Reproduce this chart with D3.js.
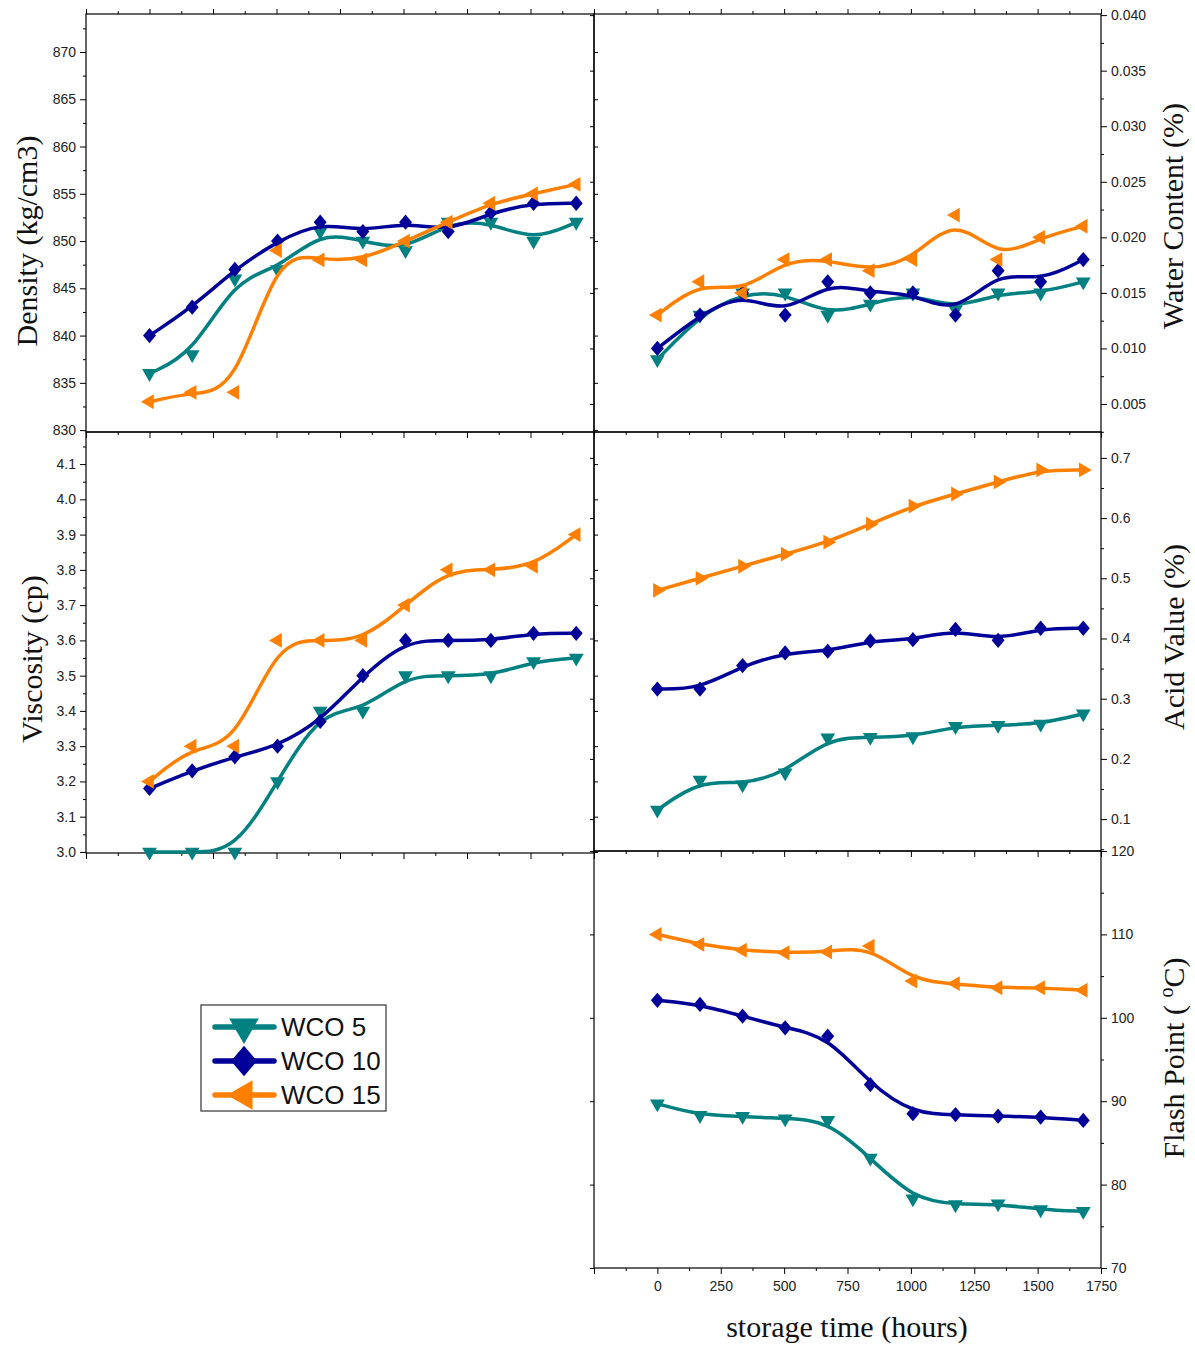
<!DOCTYPE html>
<html>
<head>
<meta charset="utf-8">
<script src="https://cdn.jsdelivr.net/npm/d3@7"></script>
<style>body { margin: 0; background: #fff; }</style>
</head>
<body>
<script>
// storage time, one sample a week
const hours = [0, 168, 336, 504, 672, 840, 1008, 1176, 1344, 1512, 1680];
const seriesNames = ['WCO 5', 'WCO 10', 'WCO 15'];

const densityWco5 = [836, 838, 846, 847, 851, 850, 849, 852, 852, 850, 852];
const densityWco10 = [840, 843, 847, 850, 852, 851, 852, 851, 853, 854, 854];
const densityWco15 = [833, 834, 834, 849, 848, 848, 850, 852, 854, 855, 856];

const waterWco5 = [0.009, 0.013, 0.015, 0.015, 0.013, 0.014, 0.015, 0.0135, 0.015, 0.015, 0.016];
const waterWco10 = [0.010, 0.013, 0.015, 0.013, 0.016, 0.015, 0.015, 0.013, 0.017, 0.016, 0.018];
const waterWco15 = [0.013, 0.016, 0.015, 0.018, 0.018, 0.017, 0.018, 0.022, 0.018, 0.020, 0.021];

const viscWco5 = [3.0, 3.0, 3.0, 3.2, 3.4, 3.4, 3.5, 3.5, 3.5, 3.54, 3.55];
const viscWco10 = [3.18, 3.23, 3.27, 3.30, 3.37, 3.50, 3.60, 3.60, 3.60, 3.62, 3.62];
const viscWco15 = [3.20, 3.30, 3.30, 3.60, 3.60, 3.60, 3.70, 3.80, 3.80, 3.81, 3.90];

const acidWco5 = [0.115, 0.165, 0.157, 0.177, 0.235, 0.236, 0.237, 0.254, 0.256, 0.258, 0.275];
const acidWco10 = [0.316, 0.316, 0.355, 0.376, 0.379, 0.396, 0.398, 0.415, 0.397, 0.417, 0.417];
const acidWco15 = [0.48, 0.50, 0.52, 0.54, 0.56, 0.59, 0.62, 0.64, 0.66, 0.68, 0.68];

const flashWco5 = [89.7, 88.3, 88.2, 87.9, 87.7, 83.2, 78.3, 77.6, 77.7, 77.0, 76.8];
const flashWco10 = [102.1, 101.6, 100.2, 98.8, 97.8, 92.0, 88.5, 88.4, 88.2, 88.1, 87.7];
const flashWco15 = [110.0, 108.8, 108.1, 107.8, 107.9, 108.6, 104.4, 104.1, 103.6, 103.6, 103.3];

const colors = ['#008080', '#000099', '#FF8000'];

const W = 1195, H = 1347;
const svg = d3.select('body').append('svg')
  .attr('width', W).attr('height', H)
  .style('font-family', '"Liberation Sans", Arial, sans-serif');

const tri = d3.symbol().type(d3.symbolTriangle);
// Origin-style diamond, a little taller than wide
const diamondPath = r => `M0,${-r * 1.12}L${r * 0.95},0L0,${r * 1.12}L${-r * 0.95},0Z`;
const shapes = {
  down: s => ({ path: tri.size(s)(), rot: 180 }),
  diamond: s => ({ path: diamondPath(Math.sqrt(s) * 0.7), rot: 0 }),
  left: s => ({ path: tri.size(s)(), rot: -90 }),
  right: s => ({ path: tri.size(s)(), rot: 90 })
};

const panels = [
  { left: 86, right: 594, top: 14, bottom: 432, side: 'left', domain: [829.8, 874.02],
    major: d3.range(830, 871, 5), minor: d3.range(832.5, 874, 5), fmt: d3.format('d'),
    data: [densityWco5, densityWco10, densityWco15], marks: ['down', 'diamond', 'left'],
    label: 'Density (kg/cm3)', lx: 37, ly: 241, topTicks: true },
  { left: 594, right: 1101, top: 14, bottom: 432, side: 'right', domain: [0.00248, 0.0401],
    major: d3.range(0.005, 0.0401, 0.005), minor: d3.range(0.0025, 0.0401, 0.005), fmt: d3.format('.3f'),
    data: [waterWco5, waterWco10, waterWco15], marks: ['down', 'diamond', 'left'],
    label: 'Water Content (%)', lx: 1183, ly: 216, topTicks: true },
  { left: 86, right: 594, top: 432, bottom: 853, side: 'left', domain: [2.997, 4.191],
    major: d3.range(3.0, 4.15, 0.1), minor: d3.range(3.05, 4.19, 0.1), fmt: d3.format('.1f'),
    data: [viscWco5, viscWco10, viscWco15], marks: ['down', 'diamond', 'left'],
    label: 'Viscosity (cp)', lx: 42, ly: 659 },
  { left: 594, right: 1101, top: 432, bottom: 851, side: 'right', domain: [0.047, 0.743],
    major: d3.range(0.1, 0.71, 0.1), minor: d3.range(0.05, 0.74, 0.1), fmt: d3.format('.1f'),
    data: [acidWco5, acidWco10, acidWco15], marks: ['down', 'diamond', 'right'],
    label: 'Acid Value (%)', lx: 1184, ly: 637 },
  { left: 594, right: 1101, top: 851, bottom: 1268, side: 'right', domain: [70, 120],
    major: d3.range(70, 121, 10), minor: d3.range(75, 120, 10), fmt: d3.format('d'),
    data: [flashWco5, flashWco10, flashWco15], marks: ['down', 'diamond', 'left'],
    label: 'flash', lx: 1184, ly: 1058, xLabels: true }
];

function styleAxis(sel) {
  sel.select('.domain').remove();
  sel.selectAll('line').attr('stroke', '#000');
  sel.selectAll('text').attr('font-size', 14).attr('fill', '#222')
    .attr('font-family', '"Liberation Sans", Arial, sans-serif');
}

function drawPanel(p) {
  const g = svg.append('g');
  const x = d3.scaleLinear().domain([-250, 1750]).range([p.left, p.right]);
  const y = d3.scaleLinear().domain(p.domain).range([p.bottom, p.top]);

  const xMajor = d3.range(-250, 1751, 250);
  const xMinor = d3.range(-125, 1750, 250);

  // bottom axis (labels only on the last panel)
  g.append('g').attr('transform', `translate(0,${p.bottom})`)
    .call(d3.axisBottom(x).tickValues(xMajor).tickSize(6).tickPadding(7)
      .tickFormat(d => (p.xLabels && d >= 0) ? d : ''))
    .call(styleAxis);
  g.append('g').attr('transform', `translate(0,${p.bottom})`)
    .call(d3.axisBottom(x).tickValues(xMinor).tickSize(3).tickFormat(''))
    .call(styleAxis);
  if (p.topTicks) {
    g.append('g').attr('transform', `translate(0,${p.top})`)
      .call(d3.axisTop(x).tickValues(xMajor).tickSize(5).tickFormat(''))
      .call(styleAxis);
    g.append('g').attr('transform', `translate(0,${p.top})`)
      .call(d3.axisTop(x).tickValues(xMinor).tickSize(3).tickFormat(''))
      .call(styleAxis);
  }

  // y axis with labels, plus mirrored ticks on the other spine
  const main = p.side === 'left' ? d3.axisLeft(y) : d3.axisRight(y);
  const mirror = p.side === 'left' ? d3.axisRight(y) : d3.axisLeft(y);
  const mainX = p.side === 'left' ? p.left : p.right;
  const mirrorX = p.side === 'left' ? p.right : p.left;
  g.append('g').attr('transform', `translate(${mainX},0)`)
    .call(main.tickValues(p.major).tickSize(6).tickPadding(4).tickFormat(p.fmt))
    .call(styleAxis);
  g.append('g').attr('transform', `translate(${mainX},0)`)
    .call((p.side === 'left' ? d3.axisLeft(y) : d3.axisRight(y)).tickValues(p.minor).tickSize(3).tickFormat(''))
    .call(styleAxis);
  g.append('g').attr('transform', `translate(${mirrorX},0)`)
    .call(mirror.tickValues(p.major).tickSize(4).tickFormat(''))
    .call(styleAxis);

  g.append('rect')
    .attr('x', p.left).attr('y', p.top)
    .attr('width', p.right - p.left).attr('height', p.bottom - p.top)
    .attr('fill', 'none').attr('stroke', '#000').attr('stroke-width', 1.2);

  const line = d3.line()
    .x((d, i) => x(hours[i]))
    .y(d => y(d))
    .curve(d3.curveBasis);

  p.data.forEach((vals, k) => {
    g.append('path')
      .attr('d', line(vals))
      .attr('fill', 'none')
      .attr('stroke', colors[k])
      .attr('stroke-width', 3.5)
      .attr('stroke-linejoin', 'round');
    g.selectAll(null)
      .data(vals)
      .enter().append('path')
        .each(function (d, i) {
          const s = shapes[p.marks[k]](95);
          d3.select(this)
            .attr('d', s.path)
            .attr('transform', `translate(${x(hours[i])},${y(d)}) rotate(${s.rot})`)
            .attr('fill', colors[k]);
        });
  });

  // axis title
  const t = svg.append('text')
    .attr('transform', `translate(${p.lx},${p.ly}) rotate(-90)`)
    .attr('text-anchor', 'middle')
    .attr('font-family', '"Liberation Serif", "Times New Roman", serif')
    .attr('font-size', 30)
    .attr('fill', '#111');
  if (p.label === 'flash') {
    t.append('tspan').text('Flash Point ( ');
    t.append('tspan').attr('font-size', 20).attr('dy', -11).text('o');
    t.append('tspan').attr('dy', 11).text('C)');
  } else {
    t.text(p.label);
  }
}

panels.forEach(drawPanel);

svg.append('text')
  .attr('x', 847).attr('y', 1337)
  .attr('text-anchor', 'middle')
  .attr('font-family', '"Liberation Serif", "Times New Roman", serif')
  .attr('font-size', 30)
  .attr('fill', '#111')
  .text('storage time (hours)');

// legend
const legend = svg.append('g');
legend.append('rect')
  .attr('x', 201).attr('y', 1005).attr('width', 185).attr('height', 106)
  .attr('fill', '#fff').attr('stroke', '#333').attr('stroke-width', 1.2);
const legendMarks = ['down', 'diamond', 'left'];
seriesNames.forEach((name, k) => {
  const cy = 1027 + k * 34;
  legend.append('line')
    .attr('x1', 215).attr('x2', 274).attr('y1', cy).attr('y2', cy)
    .attr('stroke', colors[k]).attr('stroke-width', 5.5).attr('stroke-linecap', 'round');
  const s = shapes[legendMarks[k]](380);
  legend.append('path')
    .attr('d', s.path)
    .attr('transform', `translate(244,${cy}) rotate(${s.rot})`)
    .attr('fill', colors[k]);
  legend.append('text')
    .attr('x', 281).attr('y', cy + 9)
    .attr('font-size', 26)
    .attr('fill', '#111')
    .text(name);
});
</script>
</body>
</html>
